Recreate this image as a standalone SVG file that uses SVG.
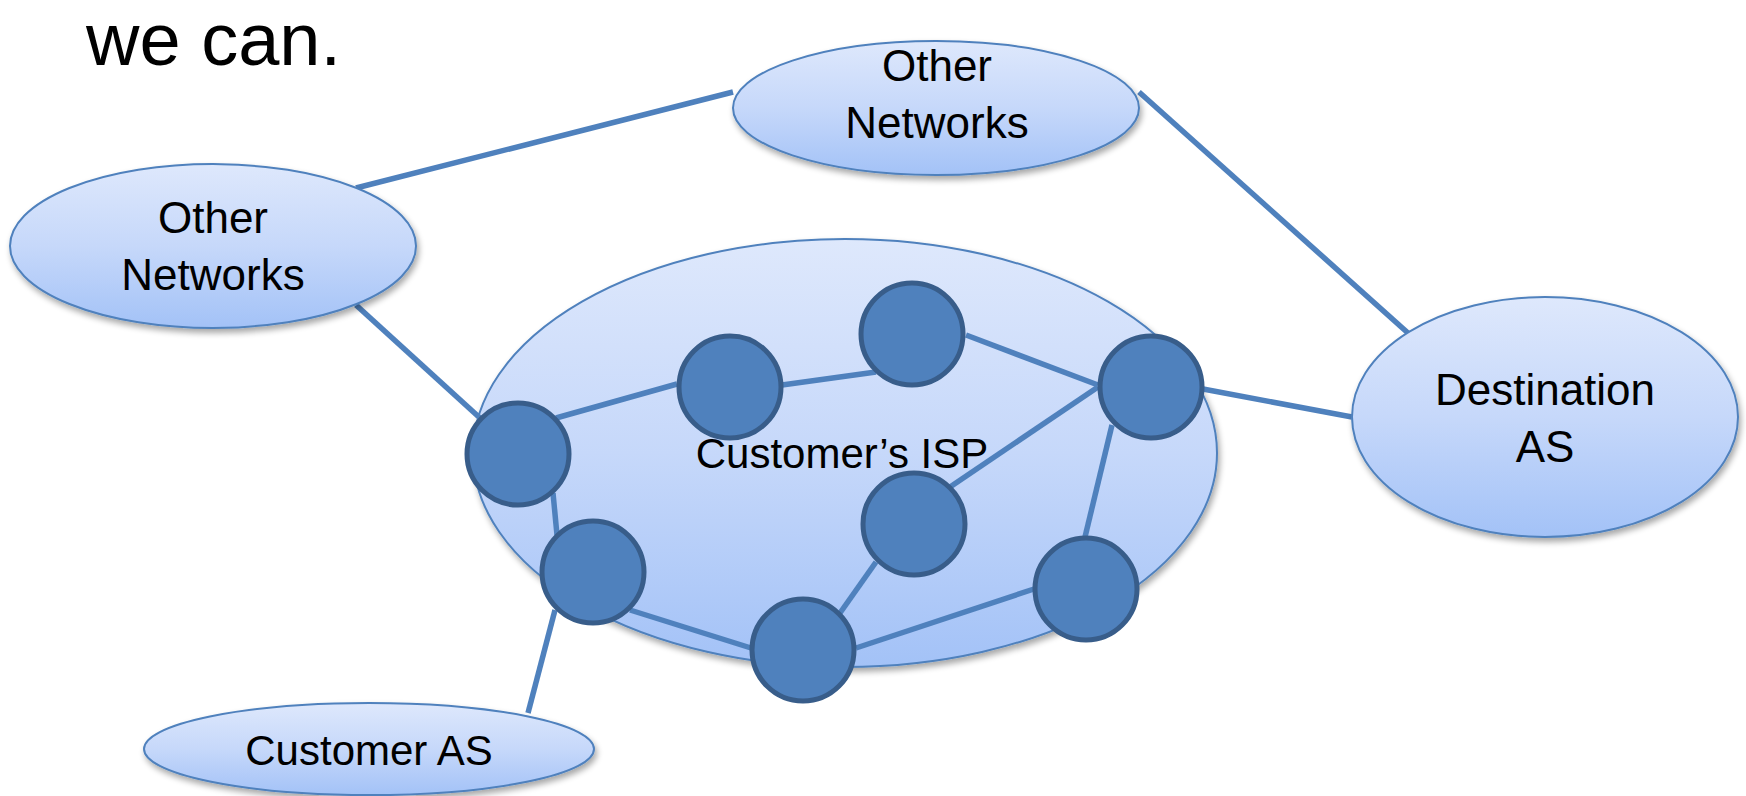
<svg xmlns="http://www.w3.org/2000/svg" width="1746" height="796" viewBox="0 0 1746 796">
  <defs>
    <linearGradient id="cloudFill" x1="0" y1="0" x2="0" y2="1">
      <stop offset="0" stop-color="#DEE8FC"/>
      <stop offset="0.5" stop-color="#C6D8FA"/>
      <stop offset="1" stop-color="#A3C2F7"/>
    </linearGradient>
    <filter id="shadow" x="-10%" y="-10%" width="120%" height="130%">
      <feGaussianBlur in="SourceAlpha" stdDeviation="3"/>
      <feOffset dx="2" dy="4" result="b"/>
      <feComponentTransfer><feFuncA type="linear" slope="0.35"/></feComponentTransfer>
      <feMerge><feMergeNode/><feMergeNode in="SourceGraphic"/></feMerge>
    </filter>
    <style>
      .cloud { fill: url(#cloudFill); stroke: #4F81BD; stroke-width: 2; filter: url(#shadow); }
      .router { fill: #4F81BD; stroke: #385D8A; stroke-width: 5; }
      .link { stroke: #4F81BD; stroke-width: 5.5; fill: none; stroke-linecap: butt; }
      .label { font-family: "Liberation Sans", Arial, sans-serif; font-size: 44px; fill: #000; text-anchor: middle; }
      .small { font-size: 42px; }
      .title { font-family: "Liberation Sans", Arial, sans-serif; font-size: 74px; fill: #000; }
    </style>
  </defs>

  <rect width="1746" height="796" fill="#FFFFFF"/>

  <text class="title" x="86" y="65">we can.</text>

  <!-- provider network background -->
  <g id="isp">
    <ellipse class="cloud" cx="845" cy="453" rx="372" ry="214"/>
  </g>

  <!-- links -->
  <g id="connectors">
    <line class="link" x1="356" y1="188" x2="733" y2="92"/>
    <line class="link" x1="1139" y1="92" x2="1408" y2="333"/>
    <line class="link" x1="356" y1="305" x2="480" y2="418"/>
    <line class="link" x1="556" y1="418" x2="677" y2="384"/>
    <line class="link" x1="782" y1="385" x2="876" y2="372"/>
    <line class="link" x1="966" y1="335" x2="1098" y2="385"/>
    <line class="link" x1="950" y1="487" x2="1098" y2="387"/>
    <line class="link" x1="1112" y1="425" x2="1085" y2="537"/>
    <line class="link" x1="1034" y1="589" x2="856" y2="648"/>
    <line class="link" x1="840" y1="613" x2="876" y2="562"/>
    <line class="link" x1="630" y1="610" x2="751" y2="648"/>
    <line class="link" x1="553" y1="493" x2="557" y2="535"/>
    <line class="link" x1="555" y1="610" x2="528" y2="713"/>
    <line class="link" x1="1203" y1="389" x2="1352" y2="417"/>
  </g>

  <g id="other-networks-left">
    <ellipse class="cloud" cx="213" cy="246" rx="203" ry="82"/>
    <text class="label" x="213" y="233">Other</text>
    <text class="label" x="213" y="290">Networks</text>
  </g>

  <g id="other-networks-top">
    <ellipse class="cloud" cx="936" cy="108" rx="203" ry="67"/>
    <text class="label" x="937" y="81">Other</text>
    <text class="label" x="937" y="138">Networks</text>
  </g>

  <g id="destination-as">
    <ellipse class="cloud" cx="1545" cy="417" rx="193" ry="120"/>
    <text class="label" x="1545" y="405">Destination</text>
    <text class="label" x="1545" y="462">AS</text>
  </g>

  <g id="customer-as">
    <ellipse class="cloud" cx="369" cy="749" rx="225" ry="46"/>
    <text class="label small" x="369" y="765">Customer AS</text>
  </g>

  <text id="isp-label" class="label small" x="842" y="468">Customer’s ISP</text>

  <!-- routers inside the ISP -->
  <g id="router-1"><circle class="router" cx="518" cy="454" r="51"/></g>
  <g id="router-2"><circle class="router" cx="730" cy="387" r="51"/></g>
  <g id="router-3"><circle class="router" cx="912" cy="334" r="51"/></g>
  <g id="router-4"><circle class="router" cx="1151" cy="387" r="51"/></g>
  <g id="router-5"><circle class="router" cx="914" cy="524" r="51"/></g>
  <g id="router-6"><circle class="router" cx="593" cy="572" r="51"/></g>
  <g id="router-7"><circle class="router" cx="803" cy="650" r="51"/></g>
  <g id="router-8"><circle class="router" cx="1086" cy="589" r="51"/></g>
</svg>
